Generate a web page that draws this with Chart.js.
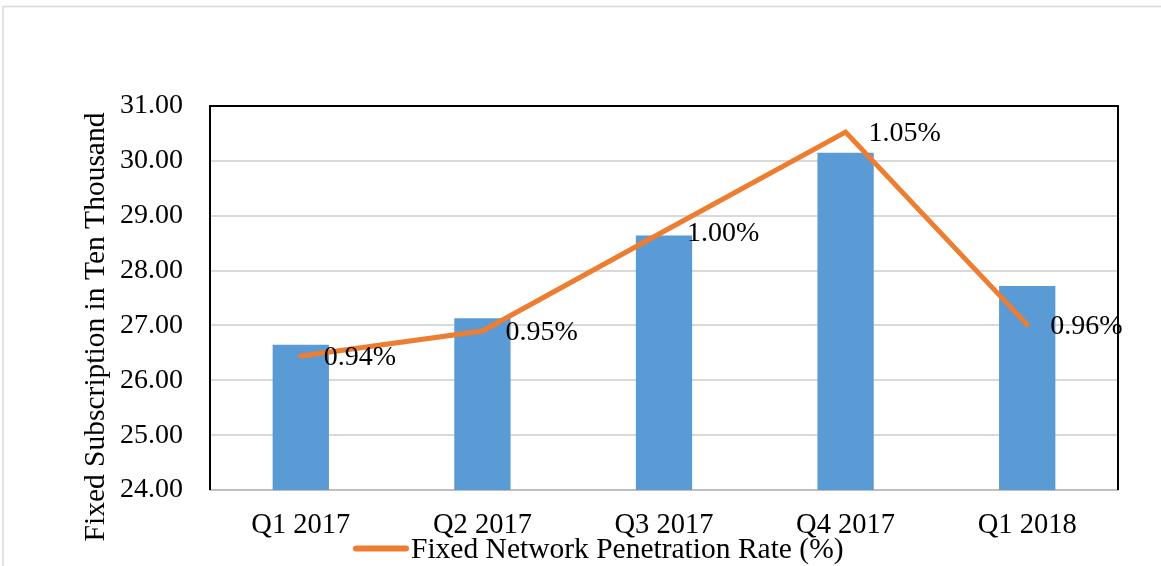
<!DOCTYPE html>
<html>
<head>
<meta charset="utf-8">
<script src="https://cdn.jsdelivr.net/npm/chart.js@4"></script>
<style>
html,body{margin:0;padding:0;background:#fff;}
#wrap{width:1161px;height:566px;position:relative;}
</style>
</head>
<body>
<div id="wrap"><canvas id="c" width="1161" height="566"></canvas></div>
<script>
const categories = ["Q1 2017", "Q2 2017", "Q3 2017", "Q4 2017", "Q1 2018"];
const subscriptions = [26.65, 27.13, 28.64, 30.15, 27.72];
const penetrationRate = [0.941, 0.9535, 1.0034, 1.053, 0.9567];
const yTicks = [24, 25, 26, 27, 28, 29, 30, 31];
const barLabel = "Fixed Subscription";
const lineLabel = "Fixed Network Penetration Rate (%)";
const yTitle = "Fixed Subscription in Ten Thousand";

const FONT = "'Liberation Serif', 'Times New Roman', serif";

const decorPlugin = {
  id: 'decor',
  beforeDraw(chart) {
    const ctx = chart.ctx;
    ctx.save();
    ctx.fillStyle = '#ffffff';
    ctx.fillRect(0, 0, chart.width, chart.height);
    ctx.strokeStyle = '#d9d9d9';
    ctx.lineWidth = 1.5;
    ctx.beginPath();
    ctx.moveTo(3, chart.height);
    ctx.lineTo(3, 6.5);
    ctx.lineTo(chart.width, 6.5);
    ctx.stroke();
    ctx.restore();
  },
  beforeDatasetsDraw(chart) {
    const ctx = chart.ctx, a = chart.chartArea;
    ctx.save();
    ctx.strokeStyle = '#000000';
    ctx.lineWidth = 2;
    ctx.beginPath();
    ctx.moveTo(a.left, a.bottom);
    ctx.lineTo(a.left, a.top);
    ctx.lineTo(a.right, a.top);
    ctx.lineTo(a.right, a.bottom);
    ctx.stroke();
    ctx.restore();
  },
  afterDraw(chart) {
    const ctx = chart.ctx;
    ctx.save();
    ctx.fillStyle = '#000';
    ctx.font = "29.5px " + FONT;
    ctx.translate(96, 327);
    ctx.rotate(-Math.PI / 2);
    ctx.textAlign = 'center';
    ctx.textBaseline = 'middle';
    ctx.fillText(yTitle, 0, 0);
    ctx.restore();

    ctx.save();
    ctx.strokeStyle = '#ED7D31';
    ctx.lineWidth = 6;
    ctx.lineCap = 'round';
    ctx.beginPath();
    ctx.moveTo(356, 548.5);
    ctx.lineTo(406, 548.5);
    ctx.stroke();
    ctx.fillStyle = '#000';
    ctx.font = "29.5px " + FONT;
    ctx.textAlign = 'left';
    ctx.textBaseline = 'middle';
    ctx.fillText(lineLabel, 411, 550);
    ctx.restore();

    const lineIdx = chart.data.datasets.findIndex(d => d.type === 'line');
    const meta = chart.getDatasetMeta(lineIdx);
    ctx.save();
    ctx.fillStyle = '#000';
    ctx.font = "28px " + FONT;
    ctx.textAlign = 'left';
    ctx.textBaseline = 'middle';
    meta.data.forEach((pt, i) => {
      const v = chart.data.datasets[lineIdx].data[i];
      ctx.fillText(v.toFixed(2) + '%', pt.x + 23, pt.y + 2);
    });
    ctx.restore();
  }
};

new Chart(document.getElementById('c'), {
  data: {
    labels: categories,
    datasets: [
      {
        type: 'line',
        label: lineLabel,
        data: penetrationRate,
        yAxisID: 'y2',
        borderColor: '#ED7D31',
        backgroundColor: '#ED7D31',
        borderWidth: 5,
        pointRadius: 0,
        borderCapStyle: 'round',
        borderJoinStyle: 'miter',
        tension: 0,
        order: 0
      },
      {
        type: 'bar',
        label: barLabel,
        data: subscriptions,
        yAxisID: 'y',
        backgroundColor: '#5B9BD5',
        borderWidth: 0,
        categoryPercentage: 1.0,
        barPercentage: 0.31,
        order: 1
      }
    ]
  },
  options: {
    responsive: false,
    animation: false,
    layout: { padding: { left: 0, right: 43, top: 106, bottom: 0 } },
    plugins: {
      legend: { display: false },
      tooltip: { enabled: false },
      title: { display: false }
    },
    scales: {
      x: {
        type: 'category',
        offset: true,
        grid: { display: false, drawTicks: false },
        border: { display: true, color: '#bfbfbf', width: 2 },
        ticks: {
          color: '#000',
          font: { family: FONT, size: 28.5 },
          padding: 18,
          maxRotation: 0
        },
        afterFit(scale) { scale.height = 76; }
      },
      y: {
        type: 'linear',
        position: 'left',
        min: yTicks[0],
        max: yTicks[yTicks.length - 1],
        afterBuildTicks(scale) { scale.ticks = yTicks.map(v => ({ value: v })); },
        grid: { color: '#d9d9d9', lineWidth: 2, drawTicks: false },
        border: { display: false },
        ticks: {
          color: '#000',
          font: { family: FONT, size: 28 },
          padding: 27,
          callback: v => Number(v).toFixed(2)
        },
        afterFit(scale) { scale.width = 210; }
      },
      y2: {
        type: 'linear',
        position: 'right',
        display: false,
        min: 0.874,
        max: 1.066
      }
    }
  },
  plugins: [decorPlugin]
});
</script>
</body>
</html>
